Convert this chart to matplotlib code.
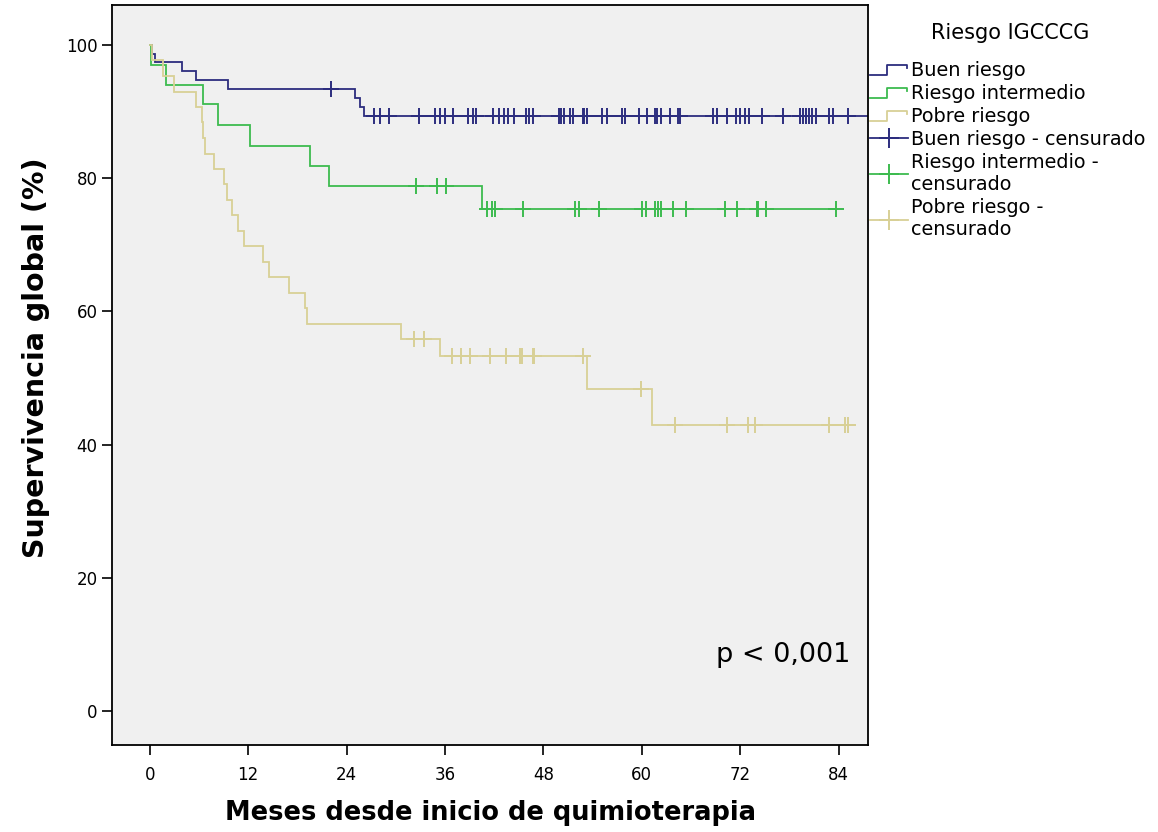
import matplotlib
matplotlib.use("Agg")
import matplotlib.pyplot as plt
import numpy as np
from matplotlib.lines import Line2D
from matplotlib.legend_handler import HandlerBase

# Kaplan-Meier: tiempos de evento (meses) y supervivencia (%)
buen_t = [0, 0.3, 0.6, 3.9, 5.7, 9.6, 25.0, 25.6, 26.1]
buen_s = [100, 98.7, 97.4, 96.1, 94.7, 93.4, 92.1, 90.7, 89.4]
buen_cens = [22.1, 27.4, 28.1, 29.2, 32.8, 34.8, 35.4, 36.0, 37.0, 38.8, 39.4, 39.8,
             41.9, 42.6, 43.2, 43.7, 44.4, 45.9, 46.3, 46.7, 49.9, 50.2, 50.5, 51.2,
             51.6, 52.8, 53.0, 53.3, 55.1, 55.7, 57.6, 57.9, 59.6, 60.6, 61.6, 61.9,
             62.3, 63.4, 64.4, 64.7, 68.7, 69.2, 70.4, 71.5, 72.0, 72.6, 73.1, 74.6,
             77.2, 79.3, 79.7, 80.0, 80.4, 80.8, 81.2, 82.8, 83.3, 85.2]
buen_fin = 87.6

inter_t = [0, 0.2, 2.0, 6.5, 8.3, 12.2, 19.6, 21.9, 40.5]
inter_s = [100, 97.0, 94.0, 91.1, 88.0, 84.9, 81.8, 78.8, 75.4]
inter_cens = [32.5, 35.0, 36.1, 41.1, 41.7, 42.1, 45.5, 51.8, 52.4, 54.8, 60.0, 60.5,
              61.6, 62.0, 62.4, 63.8, 65.4, 70.1, 71.6, 74.0, 74.2, 75.1, 83.7]
inter_fin = 83.7

pobre_t = [0, 0.3, 1.6, 3.0, 5.7, 6.35, 6.45, 6.7, 7.9, 9.1, 9.4, 10.0, 10.8, 11.5,
           13.8, 14.6, 17.0, 18.9, 19.2, 30.6, 35.4, 53.3, 61.3]
pobre_s = [100, 97.7, 95.4, 93.0, 90.7, 88.4, 86.1, 83.7, 81.4, 79.1, 76.7, 74.4,
           72.1, 69.8, 67.4, 65.1, 62.8, 60.5, 58.1, 55.8, 53.3, 48.4, 43.0]
pobre_cens = [32.2, 33.5, 36.8, 37.9, 39.0, 41.5, 43.5, 45.1, 45.4, 46.7, 46.9, 52.8,
              59.9, 64.0, 70.4, 73.0, 73.8, 82.8, 84.8, 85.2]
pobre_fin = 85.2

azul = '#2c2d7e'
verde = '#3dbb4f'
amarillo = '#d8d096'

series = [
    ("Buen riesgo", buen_t, buen_s, buen_cens, buen_fin, azul),
    ("Riesgo intermedio", inter_t, inter_s, inter_cens, inter_fin, verde),
    ("Pobre riesgo", pobre_t, pobre_s, pobre_cens, pobre_fin, amarillo),
]


class HandlerEscalon(HandlerBase):
    def create_artists(self, legend, orig_handle, xdescent, ydescent, width, height,
                       fontsize, trans):
        x0 = -xdescent
        y0 = -ydescent
        xs = [x0, x0 + 0.45 * width, x0 + 0.45 * width, x0 + 0.97 * width, x0 + 0.97 * width]
        ys = [y0 + 0.1 * height, y0 + 0.1 * height, y0 + 0.85 * height,
              y0 + 0.85 * height, y0 + 0.6 * height]
        ln = Line2D(xs, ys, color=orig_handle.get_color(), lw=orig_handle.get_linewidth(),
                    transform=trans)
        return [ln]


fig = plt.figure(figsize=(11.58, 8.32), dpi=100)
ax = fig.add_axes([0.0967, 0.1046, 0.653, 0.8894])
ax.set_facecolor('#f0f0f0')

lineas = []
cruces = []
for nombre, t, s, cens, fin, col in series:
    t = np.array(t)
    s = np.array(s)
    xs = np.append(t, fin)
    ys = np.append(s, s[-1])
    ln, = ax.step(xs, ys, where='post', color=col, lw=1.3, solid_joinstyle='miter')
    idx = np.searchsorted(t, np.array(cens), side='right') - 1
    cr, = ax.plot(cens, s[idx], ls='none', marker='+', ms=12, mew=1.4, color=col)
    lineas.append(ln)
    cruces.append(cr)

ax.set_xlim(-4.6, 87.6)
ax.set_ylim(-5.1, 106)
ax.set_xticks(np.arange(0, 85, 12))
ax.set_yticks(np.arange(0, 101, 20))
ax.tick_params(axis='both', direction='out', length=7, width=1.2, labelsize=12)
ax.tick_params(axis='x', pad=8)
for sp in ax.spines.values():
    sp.set_linewidth(1.3)

ax.set_xlabel('Meses desde inicio de quimioterapia', fontsize=18.5, fontweight='bold',
              labelpad=12)
ax.set_ylabel('Supervivencia global (%)', fontsize=20.5, fontweight='bold')
ax.yaxis.set_label_coords(-0.082, 0.524)

ax.text(85.4, 8.4, 'p < 0,001', fontsize=19.5, ha='right', va='center')

fig.text(1010 / 1158, 1 - 33 / 832, 'Riesgo IGCCCG', fontsize=15, ha='center',
         va='center')

etiquetas = ["Buen riesgo", "Riesgo intermedio", "Pobre riesgo",
             "Buen riesgo - censurado", "Riesgo intermedio -\ncensurado",
             "Pobre riesgo -\ncensurado"]
handles_cens = [Line2D([0], [0], color=c.get_color(), lw=1.3, marker='+', ms=15, mew=1.4)
                for c in cruces]
leg = fig.legend(lineas + handles_cens, etiquetas, loc='upper left',
                 bbox_to_anchor=(0.751, 1 - 61 / 832), frameon=False, fontsize=13.9,
                 handlelength=2.0, handletextpad=0.12, labelspacing=0.21,
                 borderaxespad=0, borderpad=0, numpoints=1,
                 handler_map={l: HandlerEscalon() for l in lineas})

fig.savefig('out.png', dpi=100)
